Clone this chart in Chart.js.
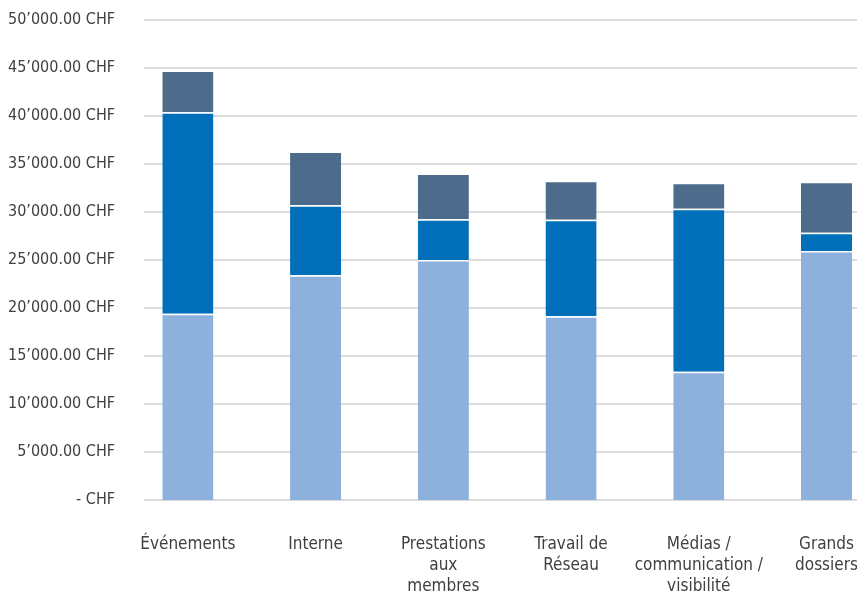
<!DOCTYPE html>
<html>
<head>
<meta charset="utf-8">
<script src="https://cdn.jsdelivr.net/npm/chart.js@4/dist/chart.umd.min.js"></script>
<style>
  html, body { margin: 0; padding: 0; background: #fff; overflow: hidden; }
  #wrap { position: relative; width: 892px; height: 594px; }
</style>
</head>
<body>
<div id="wrap"><canvas id="graph"></canvas></div>
<script>
var categories = [
    "Événements",
    "Interne",
    ["Prestations", "aux", "membres"],
    ["Travail de", "Réseau"],
    ["Médias /", "communication /", "visibilité"],
    ["Grands", "dossiers"]
];
var seriesLight  = [19400, 23400, 25000, 19150, 13350, 25950];
var seriesMedium = [21000,  7300,  4250, 10050, 17000,  1900];
var seriesDark   = [ 4350,  5600,  4750,  4050,  2700,  5300];
var yTicks = [0, 5000, 10000, 15000, 20000, 25000, 30000, 35000, 40000, 45000, 50000];

var fontFamily = "'Liberation Sans Narrow', 'DejaVu Sans Condensed', Roboto, sans-serif";
var textColor = "#404040";

function formatChf(v) {
    if (v === 0) return "- CHF";
    var s = Math.round(v).toString().replace(/\B(?=(\d{3})+(?!\d))/g, "\u2019");
    return s + ".00 CHF";
}

// grid lines start a little right of the plot edge, like the original
var gridPlugin = {
    id: "gridFrom",
    beforeDatasetsDraw: function(chart) {
        var ctx = chart.ctx;
        var y = chart.scales.y;
        ctx.save();
        ctx.strokeStyle = "#dcdcdc";
        ctx.lineWidth = 2;
        yTicks.forEach(function(t) {
            var py = Math.round(y.getPixelForValue(t));
            ctx.beginPath();
            ctx.moveTo(144, py);
            ctx.lineTo(chart.chartArea.right, py);
            ctx.stroke();
        });
        ctx.restore();
    }
};

function segment(data, color) {
    return {
        data: data,
        backgroundColor: color,
        borderColor: "#ffffff",
        borderWidth: { top: 1.5, left: 0, right: 0, bottom: 0 },
        borderSkipped: false,
        barPercentage: 0.4,
        categoryPercentage: 1.0
    };
}

var ctx = document.getElementById("graph");
var chart = new Chart(ctx, {
    type: "bar",
    data: {
        labels: categories,
        datasets: [
            segment(seriesLight, "#8eb0dc"),
            segment(seriesMedium, "#006eb8"),
            segment(seriesDark, "#4d6b8a")
        ]
    },
    options: {
        responsive: true,
        maintainAspectRatio: false,
        animation: false,
        layout: { padding: { top: 20, right: 0, bottom: 0, left: 0 } },
        plugins: {
            legend: { display: false },
            tooltip: { enabled: false }
        },
        scales: {
            x: {
                stacked: true,
                grid: { display: false, drawTicks: false },
                border: { display: false },
                ticks: {
                    color: textColor,
                    font: { family: fontFamily, size: 17, lineHeight: 1.24 },
                    padding: 34,
                    maxRotation: 0,
                    autoSkip: false
                },
                afterFit: function(scale) { scale.height = 94; }
            },
            y: {
                stacked: true,
                min: 0,
                max: 50000,
                grid: { display: false, drawTicks: false },
                border: { display: false },
                afterBuildTicks: function(scale) {
                    scale.ticks = yTicks.map(function(v) { return { value: v }; });
                },
                ticks: {
                    color: textColor,
                    font: { family: fontFamily, size: 16 },
                    padding: 9,
                    callback: function(v) { return formatChf(v); }
                },
                afterFit: function(scale) { scale.width = 124; }
            }
        }
    },
    plugins: [gridPlugin]
});
</script>
</body>
</html>
